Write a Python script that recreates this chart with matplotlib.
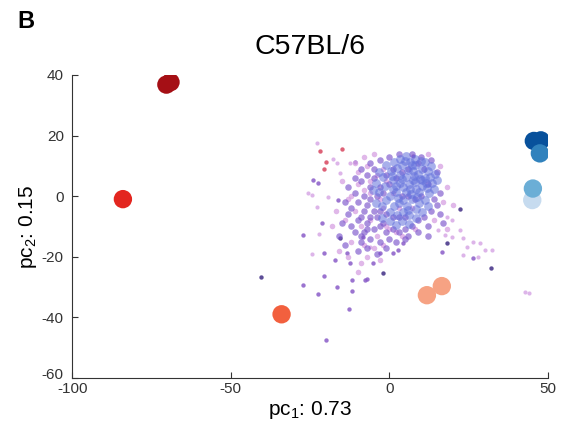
import matplotlib
matplotlib.use('Agg')
import matplotlib.pyplot as plt
from matplotlib.transforms import ScaledTranslation

plt.rcParams['font.family'] = ['Liberation Sans', 'DejaVu Sans']
plt.rcParams['mathtext.fontset'] = 'custom'
plt.rcParams['mathtext.rm'] = 'Liberation Sans'
plt.rcParams['mathtext.it'] = 'Liberation Sans'
plt.rcParams['axes.unicode_minus'] = False

# group centroids (pc1, pc2) and their colours
group_x = [-70.3, -69.0, -84.0, -34.0, 11.8, 16.5, 45.5, 47.7, 47.4, 45.0, 45.2]
group_y = [36.8, 37.6, -1.0, -39.0, -32.7, -29.7, 18.2, 18.4, 14.1, -1.3, 2.5]
group_c = ['#a50f15', '#a50f15', '#e3261f', '#f2603e', '#f6a283', '#f6a283',
           '#08519c', '#08519c', '#3182bd', '#c6dbef', '#6baed6']

# dense centre of the cell cloud
core_blue = [(0.3, 0.2), (2.1, 1.4), (4.2, 3.1), (6.4, 2.2), (8.1, 4.5), (10.3, 3.2), (1.2, 5.3),
             (3.4, 7.1), (5.2, 6.4), (7.3, 8.2), (9.1, 7.4), (11.2, 6.1), (-1.3, 3.4), (-2.1, 6.3),
             (0.4, 8.2), (2.3, 9.4), (4.1, 10.3), (6.5, 11.2), (8.2, 10.4), (10.4, 9.1), (12.1, 8.4),
             (13.3, 4.2), (12.4, 1.1), (11.1, -1.4), (9.3, -2.2), (7.2, -1.1), (5.4, -3.3), (3.1, -2.4),
             (1.3, -3.2), (-1.2, -1.3), (-3.3, 1.2), (-2.2, -3.4), (0.1, -5.3), (2.4, -6.1), (4.3, -5.4),
             (6.1, -6.3), (8.4, -4.1), (10.2, -5.4), (12.3, -3.1), (14.1, 2.3), (3.3, 4.4), (5.1, 1.2),
             (7.4, 5.3), (9.2, 1.4), (1.1, 2.2), (-4.2, 4.3), (-3.4, 8.1), (-1.1, 10.4), (1.4, 11.1),
             (3.2, 12.3), (5.3, 13.1), (8.1, 12.4), (11.3, 11.2), (13.2, 10.1), (14.4, 7.2), (15.1, 5.4),
             (6.3, -9.1), (4.1, -8.3), (8.3, -7.2), (2.2, -9.4), (0.3, -8.1), (-2.4, -7.2), (-4.1, -2.3),
             (-5.3, 2.1), (6.2, 4.1), (8.4, 2.3), (4.4, -1.2), (2.2, 3.3), (10.1, 5.2), (7.1, 10.3),
             (5.7, 8.6), (9.6, 5.7), (3.8, 5.6), (7.8, 6.7), (11.6, 4.3), (6.8, 0.7), (2.7, -0.6),
             (9.8, 11.6), (4.8, 11.7), (12.8, 6.2), (0.8, 6.7), (8.7, -0.4), (5.8, -4.6), (11.7, 2.6)]

core_purple = [(-5, -5), (-7, -3), (-8, 0), (-6, 3), (-9, 5), (-7, 7), (-5, 9), (-10, -2), (-11, 1),
               (-12, -4), (-9, -7), (-7, -9), (-5, -11), (-3, -10), (-1, -12), (1, -11), (3, -12),
               (5, -11), (7, -10), (9, -8), (11, -7), (13, -5), (14, -1), (15, -3), (16, 1), (15, 8),
               (13, 12), (10, 13), (-3, -5), (-1, -6), (1, -7), (3, -7), (5, -7), (-6, -1), (-4, 0),
               (-2, 1), (0, 4), (2, 6), (4, 8), (6, 9), (-8, -5), (-10, -8), (-12, -10), (-8, -12),
               (-6, -14), (-3, -15), (0, -14), (-13, -6), (-14, -2), (-11, -12), (-9, -15), (2, -15),
               (5, -14), (9, -12), (12, -10), (-15, -9), (-13, 3), (-11, 6), (-9, 9), (-6, 11), (-3, 12),
               (0, 13), (3, 14), (7, 14), (-16, -13), (-14, -16), (-10, -18), (-7, -17), (-4, -19),
               (-1, -17), (12, -13), (16, -6), (17, -9), (-2, -9), (-4, -7), (-6, -7), (4, 0), (6, 0),
               (8, -1), (10, 0), (12, 4), (11, 9), (9, 11), (-1, 7), (1, 9), (-3, 3), (-5, 6), (-7, -11),
               (-9, -13), (6, -13)]

core_pink = [(-8, 2), (-10, 4), (-6, 5), (-4, 7), (-2, 9), (-12, 0), (-11, -5), (-9, -10), (-6, -8),
             (-4, -13), (-1, -10), (2, -12), (-7, 10), (-10, 8), (-13, -1), (-14, -8), (-12, -15),
             (-8, -16), (-5, -17), (-2, -16), (0, -11), (4, -13), (8, -11), (-3, -1), (-6, 1), (-1, 5),
             (1, 1), (-15, 5), (-17, -5), (-18, -10), (-16, -18), (-13, -20), (-9, -22), (14, -8),
             (17, -2), (18, 3), (16, 10), (12, 14), (-8, 13), (-5, 14), (-11, 11), (-2, -4), (3, -4),
             (7, -4), (-7, -20), (-10, -25), (-3, -21), (18, -11), (20, -3)]

# sparse cells around the cloud
outer_pink = [(-22.9, 17.6), (-17.9, 12.2), (-16.5, 10.9), (-25.7, 1.0), (-24.4, 0.3), (-22.9, -3.5),
              (-19.4, -0.2), (-15.6, 7.6), (-12.4, 10.9), (-22.2, -12.5), (-24.4, -19.1), (-6.1, -16.7),
              (18.0, -6.8), (19.6, -7.9), (15.3, -11.2), (17.5, -12.9), (19.6, -13.4), (22.2, -11.2),
              (23.2, -13.9), (24.3, -16.7), (26.3, -15.1), (28.5, -15.5), (30.1, -17.8), (32.2, -17.8),
              (23.2, -19.5), (27.9, -20.0), (42.7, -31.6), (44.0, -32.0)]
outer_red = [(-21.9, 15.0), (-15.1, 15.5), (-20.0, 11.3), (-20.6, 8.9)]
outer_purple = [(-24.1, 5.3), (-22.5, 4.3), (-10.9, 11.3), (-21.4, -8.9), (-27.4, -12.8), (-20.6, -18.7),
                (-27.3, -29.4), (-22.5, -32.3), (-20.6, -26.4), (-16.5, -30.0), (-11.8, -31.3),
                (-12.8, -37.3), (-20.1, -47.5), (-13.5, -18.8), (-17.2, -21.1), (-12.4, -22.1),
                (-7.7, -27.7), (-11.9, -27.7), (16.5, -18.4), (26.3, -20.5), (-7.2, -27.4), (-5.2, -22.1),
                (-3.0, -18.8), (1.1, -18.8), (2.7, -17.8), (4.3, -15.5), (-8.4, -13.4), (7.4, 13.2),
                (-16.2, -1.3)]
outer_dark = [(-40.6, -26.7), (-15.6, -13.9), (22.2, -4.1), (18.0, -15.5), (31.9, -23.8), (-2.0, -25.3)]


def xs(pts):
    return [p[0] for p in pts]


def ys(pts):
    return [p[1] for p in pts]


fig = plt.figure(figsize=(5.68, 4.28), dpi=100)
ax = fig.add_axes([0.127, 0.117, 0.838, 0.708])

ax.scatter(xs(outer_pink), ys(outer_pink), s=9, c='#d8a8e6', alpha=0.85, lw=0)
ax.scatter(xs(outer_red), ys(outer_red), s=10, c='#d8475f', alpha=0.85, lw=0)
ax.scatter(xs(outer_purple), ys(outer_purple), s=10, c='#8a5cc8', alpha=0.85, lw=0)
ax.scatter(xs(outer_dark), ys(outer_dark), s=10, c='#4b3a8c', alpha=0.9, lw=0)
ax.scatter(xs(core_pink), ys(core_pink), s=16, c='#d6a0e2', alpha=0.75, lw=0)
ax.scatter(xs(core_purple), ys(core_purple), s=22, c='#7b55cc', alpha=0.65, lw=0)
ax.scatter(xs(core_blue), ys(core_blue), s=40, c='#6270dc', alpha=0.55, lw=0)

ax.scatter(group_x, group_y, s=175, c=group_c, lw=0, zorder=3)

ax.set_xlim(-100, 50)
ax.set_ylim(-60, 40)
ax.set_xticks([-100, -50, 0, 50])
ax.set_yticks([-60, -40, -20, 0, 20, 40])
for side in ['top', 'right']:
    ax.spines[side].set_visible(False)
for side in ['left', 'bottom']:
    ax.spines[side].set_color('#333333')
ax.tick_params(direction='in', length=4, labelsize=11, colors='#333333')
ax.tick_params(axis='x', pad=3)
ax.tick_params(axis='y', pad=6)
# nudge the bottom y label up a couple of pixels so it clears the x labels
lab = ax.get_yticklabels()[0]
lab.set_transform(lab.get_transform() + ScaledTranslation(0, 3 / 72, fig.dpi_scale_trans))

ax.set_xlabel(r'pc$_1$: 0.73', fontsize=15, labelpad=2)
ax.set_ylabel(r'pc$_2$: 0.15', fontsize=15, labelpad=2)
ax.set_title('C57BL/6', fontsize=20.5, pad=15)
fig.text(0.03, 0.95, 'B', fontsize=17, fontweight='bold', va='center')

fig.savefig('out.png', dpi=100)
